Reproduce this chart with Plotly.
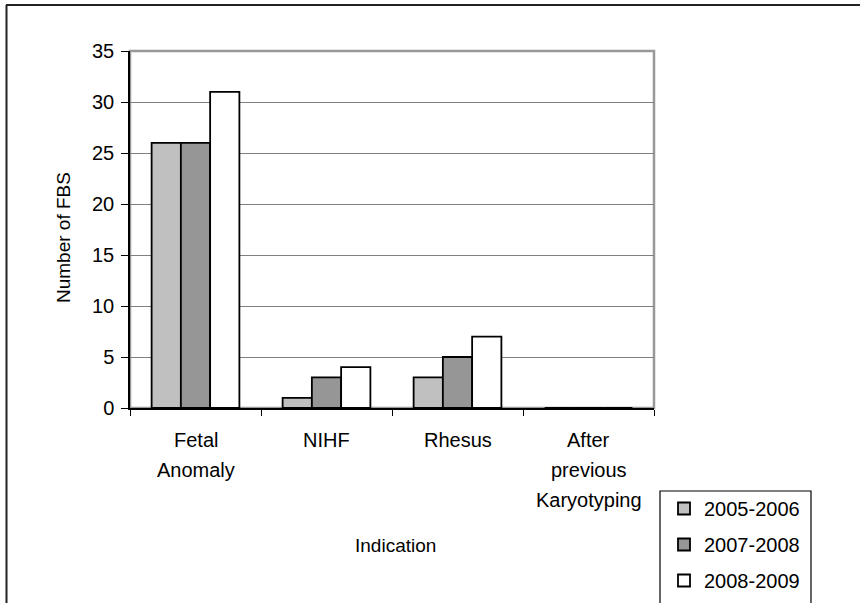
import plotly.graph_objects as go

categories = ["Fetal Anomaly", "NIHF", "Rhesus", "After previous Karyotyping"]
category_lines = [["Fetal", "Anomaly"], ["NIHF"], ["Rhesus"], ["After", "previous", "Karyotyping"]]
series_names = ["2005-2006", "2007-2008", "2008-2009"]
values_2005_2006 = [26, 1, 3, 0]
values_2007_2008 = [26, 3, 5, 0]
values_2008_2009 = [31, 4, 7, 0]
y_ticks = [0, 5, 10, 15, 20, 25, 30, 35]

colors = ["#c0c0c0", "#969696", "#ffffff"]
series_values = [values_2005_2006, values_2007_2008, values_2008_2009]

FONT = "Liberation Sans, Arial, sans-serif"

W, H = 860, 603
L, R, T, B = 130, 206, 51, 195
pw, ph = W - L - R, H - T - B


def px_x(x):
    return (x - L) / pw


def px_y(y):
    return (H - B - y) / ph


fig = go.Figure()
for name, vals, col in zip(series_names, series_values, colors):
    fig.add_trace(go.Bar(
        x=categories, y=vals, name=name, legendgroup=name,
        marker=dict(color=col, line=dict(color="black", width=1.8)),
    ))

annotations = []
for cat, lines in zip(categories, category_lines):
    for i, line in enumerate(lines):
        annotations.append(dict(
            x=cat, xref="x", y=px_y(440 + 30 * i), yref="paper",
            text=line, showarrow=False, xanchor="center", yanchor="middle",
            font=dict(family=FONT, size=20, color="black"),
        ))
annotations.append(dict(
    x=px_x(395), xref="paper", y=px_y(545), yref="paper",
    text="Indication", showarrow=False, xanchor="center", yanchor="middle",
    font=dict(family=FONT, size=19, color="black"),
))
annotations.append(dict(
    x=px_x(63), xref="paper", y=px_y(238), yref="paper",
    text="Number of FBS", showarrow=False, textangle=-90,
    xanchor="center", yanchor="middle",
    font=dict(family=FONT, size=19, color="black"),
))

shapes = [
    # plot area border (gray, top/right)
    dict(type="rect", xref="paper", yref="paper", x0=0, x1=1, y0=0, y1=1,
         line=dict(color="#999999", width=2.5), layer="below"),
    # figure frame top and left
    dict(type="line", xref="paper", yref="paper", x0=px_x(6), x1=px_x(W + 5),
         y0=px_y(5), y1=px_y(5), line=dict(color="#222222", width=2)),
    dict(type="line", xref="paper", yref="paper", x0=px_x(6.5), x1=px_x(6.5),
         y0=px_y(5), y1=px_y(H + 5), line=dict(color="#222222", width=2)),
    # legend frame (runs past the bottom edge like the reference)
    dict(type="rect", xref="paper", yref="paper", x0=px_x(660), x1=px_x(811),
         y0=px_y(H + 10), y1=px_y(491), line=dict(color="black", width=1.2),
         fillcolor="white", layer="below"),
]

fig.update_layout(
    width=W, height=H,
    margin=dict(l=L, r=R, t=T, b=B, autoexpand=False),
    paper_bgcolor="white", plot_bgcolor="white",
    barmode="group", bargap=0.33, bargroupgap=0,
    font=dict(family=FONT, size=20, color="black"),
    showlegend=True,
    legend=dict(
        x=px_x(664), y=px_y(489), xanchor="left", yanchor="top",
        bgcolor="rgba(0,0,0,0)", borderwidth=0,
        font=dict(family=FONT, size=20, color="black"),
        traceorder="grouped", tracegroupgap=7,
        itemclick=False, itemdoubleclick=False,
    ),
    xaxis=dict(
        showticklabels=False, ticks="outside", tickson="boundaries",
        ticklen=6, tickcolor="black", tickwidth=1,
        showline=True, linecolor="black", linewidth=1.5,
        showgrid=False, zeroline=False, fixedrange=True,
    ),
    yaxis=dict(
        range=[0, 35], tickvals=y_ticks, ticks="outside", ticklen=7,
        tickcolor="black", tickwidth=1, ticklabelstandoff=3,
        showline=True, linecolor="black", linewidth=1.5,
        showgrid=True, gridcolor="#808080", gridwidth=1,
        zeroline=False, fixedrange=True,
        tickfont=dict(family=FONT, size=20, color="black"),
    ),
    annotations=annotations,
    shapes=shapes,
)

fig.write_html(
    "out.html",
    config={"displayModeBar": False},
    post_script="document.body.style.margin='0';document.body.style.overflow='hidden';",
)
